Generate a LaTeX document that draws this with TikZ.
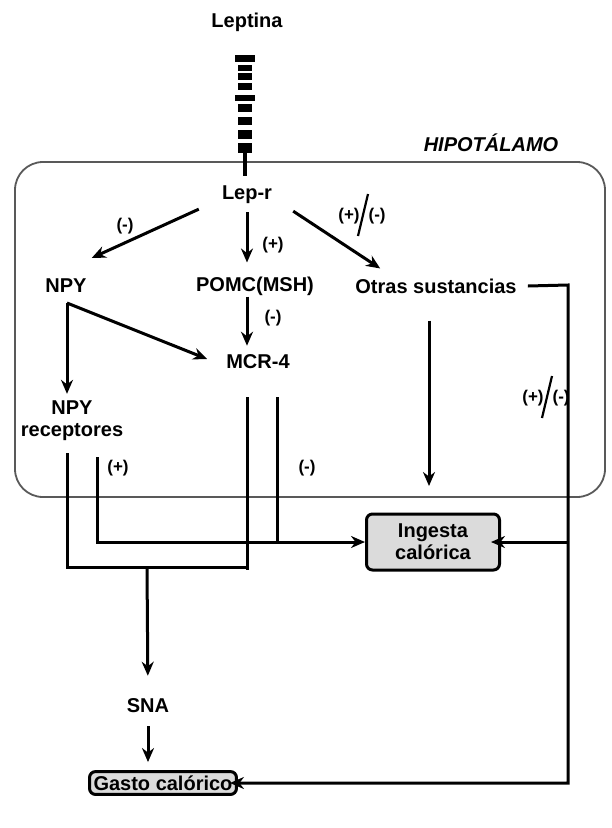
\documentclass[tikz,border=0pt]{standalone}
\usepackage{fontspec}
\setmainfont{Liberation Sans}
\usetikzlibrary{arrows.meta,positioning}

\begin{document}
\begin{tikzpicture}[x=1pt,y=-1pt,
        txt/.style={font=\fontsize{20}{22}\selectfont\bfseries,inner sep=1pt,align=center},
        lbl/.style={font=\fontsize{17}{19}\selectfont\bfseries,inner sep=0pt},
        arr/.style={line width=3pt,-{Stealth[length=14pt,width=12pt]}},
        ln/.style={line width=3pt},
        outbox/.style={txt,draw,line width=3pt,rounded corners=6pt,fill=gray!28,inner sep=4pt}]
    \useasboundingbox (0,0) rectangle (612,828);
    % hipotalamo
    \draw[line width=1.8pt,black!65,rounded corners=28pt] (15,162) rectangle (605,497);
    \node[txt,font=\fontsize{20}{22}\selectfont\bfseries\itshape] (hipo) at (491,143) {HIPOTÁLAMO};
    % leptina y receptor
    \node[txt] (leptina) at (247,22) {Leptina};
    \foreach \ya/\yb/\w in {55/62/10, 65/71/7, 73/80/7, 83/90/7, 95/101/10, 104/112/7, 117/125/7, 130/139/7, 143/153/7}
        \fill (245-\w,\ya) rectangle (245+\w,\yb);
    \draw[line width=3.2pt] (245,150) -- (245,176);
    % nodos
    \node[txt] (lepr) at (247,195) {Lep-r};
    \node[txt] (npy) at (66,286) {NPY};
    \node[txt] (pomc) at (255,286) {POMC(MSH)};
    \node[txt] (otras) at (436,286) {Otras sustancias};
    \node[txt] (mcr) at (258,362) {MCR-4};
    \node[txt] (npyr) at (72,421) {NPY\\receptores};
    \node[outbox,minimum width=133pt,minimum height=56pt] (ingesta) at (433,542) {Ingesta\\calórica};
    \node[txt] (sna) at (148,706) {SNA};
    \node[outbox] (gasto) at (163,783) {Gasto calórico};
    % etiquetas
    \node[lbl] (m1) at (125,226) {(-)};
    \node[lbl] (p1) at (273,245) {(+)};
    \node[lbl] (m2) at (273,318) {(-)};
    \node[lbl] (pm1) at (362,216) {(+)\hspace{9pt}(-)};
    \draw[line width=2.2pt] ([xshift=-4pt,yshift=-20pt]pm1.center) -- ([xshift=6pt,yshift=22pt]pm1.center);
    \node[lbl] (pm2) at (546,398) {(+)\hspace{9pt}(-)};
    \draw[line width=2.2pt] ([xshift=-4pt,yshift=-20pt]pm2.center) -- ([xshift=6pt,yshift=22pt]pm2.center);
    \node[lbl] (p2) at (118,468) {(+)};
    \node[lbl] (m3) at (307,468) {(-)};
    % puntos de paso
    \coordinate (npyc) at (67,303);
    \coordinate (ra) at (67,453);
    \coordinate (rb) at (97,457);
    \coordinate (ma) at (247,397);
    \coordinate (mb) at (277,397);
    \coordinate (otrasend) at (429,486);
    \coordinate (rt) at (568,285);
    % flechas
    \draw[arr] ([xshift=-22pt,yshift=-4pt]lepr.south west) -- ([xshift=4pt,yshift=20pt]npy.north east);
    \draw[arr,shorten <=7pt,shorten >=13pt] (lepr.south) -- (lepr.south |- pomc.north);
    \draw[arr] ([xshift=20pt,yshift=-6pt]lepr.south east) -- ([xshift=26pt,yshift=9pt]otras.north west);
    \draw[arr,shorten >=8pt] (lepr.south |- pomc.south) -- (lepr.south |- mcr.north);
    \draw[arr] (npyc) -- ([xshift=-18pt,yshift=3pt]mcr.west);
    \draw[arr,shorten >=6pt] (npyc) -- (npyc |- npyr.north);
    \draw[arr,shorten <=26pt] (otras.south -| otrasend) -- (otrasend);
    \draw[ln] (ra) |- (247,567);
    \draw[ln] (ma) -- (247,570);
    \draw[arr] (rb) |- (ingesta.west);
    \draw[ln] (mb) -- (mb |- ingesta.west);
    \draw[arr,shorten >=22pt] (147,567) -- (sna.north);
    \draw[arr,shorten <=12pt,shorten >=8pt] (sna.south) -- (sna.south |- gasto.north);
    \draw[arr,shorten >=-8pt] ([xshift=10pt]otras.east) -- (rt) |- (gasto.east);
    \draw[arr,shorten >=-10pt] (rt |- ingesta.east) -- (ingesta.east);
\end{tikzpicture}
\end{document}
